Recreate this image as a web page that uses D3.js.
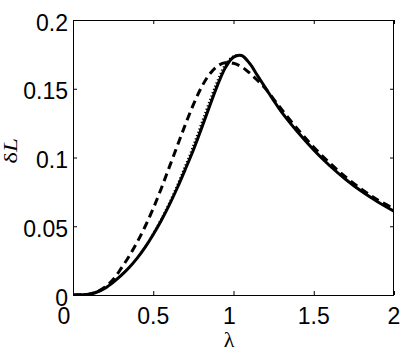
<!DOCTYPE html>
<html>
<head>
<meta charset="utf-8">
<script src="https://cdn.jsdelivr.net/npm/d3@7"></script>
<style>
html,body{margin:0;padding:0;background:#fff;}
svg{display:block;}
</style>
</head>
<body>
<script>
// ---- data ----
const lambda     = [0,0.05,0.1,0.15,0.2,0.25,0.3,0.35,0.4,0.45,0.5,0.55,0.6,0.65,0.7,0.75,0.8,0.85,0.9,0.95,1.0,1.05,1.1,1.15,1.2,1.25,1.3,1.4,1.5,1.6,1.7,1.8,1.9,2.0];
const solidVals  = [0,0.0001,0.0006,0.0022,0.0050,0.0092,0.0142,0.0200,0.0268,0.0348,0.0440,0.0542,0.0655,0.0780,0.0915,0.1055,0.1210,0.1370,0.1525,0.1655,0.1730,0.1742,0.1685,0.1595,0.1505,0.1415,0.1330,0.1185,0.1055,0.0940,0.0840,0.0752,0.0677,0.0610];
const dashedVals = [0,0.0001,0.0006,0.0024,0.0058,0.0113,0.0193,0.0283,0.0385,0.0500,0.0630,0.0775,0.0930,0.1085,0.1240,0.1385,0.1510,0.1605,0.1665,0.1690,0.1685,0.1660,0.1615,0.1560,0.1500,0.1425,0.1350,0.1205,0.1075,0.0960,0.0857,0.0768,0.0690,0.0628];
const dottedVals = [0,0.0001,0.0006,0.0022,0.0050,0.0092,0.0142,0.0200,0.0268,0.0350,0.0450,0.0555,0.0672,0.0802,0.0942,0.1090,0.1250,0.1410,0.1560,0.1680,0.1737,0.1742,0.1685,0.1595,0.1505,0.1415,0.1330,0.1185,0.1055,0.0940,0.0840,0.0752,0.0677,0.0610];
const xTicks = [0,0.5,1,1.5,2];
const yTicks = [0,0.05,0.1,0.15,0.2];
const xTickLabels = ["0","0.5","1","1.5","2"];
const yTickLabels = ["0","0.05","0.1","0.15","0.2"];

const W = 407, H = 358;
const L = 73, R = 394, T = 20, B = 295;

const svg = d3.select("body").append("svg").attr("width", W).attr("height", H);
const x = d3.scaleLinear().domain([0,2]).range([L,R]);
const y = d3.scaleLinear().domain([0,0.2]).range([B,T]);

svg.append("clipPath").attr("id","clip").append("rect")
  .attr("x",L).attr("y",T-10).attr("width",R-L).attr("height",B-T+10);

function series(vals){ return lambda.map((l,i)=>[l, vals[i]]); }
const line = d3.line().x(d=>x(d[0])).y(d=>y(d[1])).curve(d3.curveCatmullRom.alpha(0.5));

const g = svg.append("g").attr("clip-path","url(#clip)");
g.append("path").attr("d", line(series(dottedVals)))
  .attr("fill","none").attr("stroke","#000").attr("stroke-width",2).attr("stroke-dasharray","1.2,2.3");
g.append("path").attr("d", line(series(solidVals)))
  .attr("fill","none").attr("stroke","#000").attr("stroke-width",3);
g.append("path").attr("d", line(series(dashedVals)))
  .attr("fill","none").attr("stroke","#000").attr("stroke-width",3).attr("stroke-dasharray","8,5");

// box
svg.append("rect").attr("x",L+0.5).attr("y",T+0.5).attr("width",R-L-1).attr("height",B-T)
  .attr("fill","none").attr("stroke","#000").attr("stroke-width",1);

// axes with inward ticks
const tl = 4;
svg.append("g").attr("transform",`translate(0,${B})`)
  .call(d3.axisBottom(x).tickValues(xTicks).tickSizeInner(-tl).tickSizeOuter(0).tickFormat(""))
  .call(s=>s.select(".domain").remove());
svg.append("g").attr("transform",`translate(0,${T})`)
  .call(d3.axisTop(x).tickValues(xTicks).tickSizeInner(-tl).tickSizeOuter(0).tickFormat(""))
  .call(s=>s.select(".domain").remove());
svg.append("g").attr("transform",`translate(${L},0)`)
  .call(d3.axisLeft(y).tickValues(yTicks).tickSizeInner(-tl).tickSizeOuter(0).tickFormat(""))
  .call(s=>s.select(".domain").remove());
svg.append("g").attr("transform",`translate(${R},0)`)
  .call(d3.axisRight(y).tickValues(yTicks).tickSizeInner(-tl).tickSizeOuter(0).tickFormat(""))
  .call(s=>s.select(".domain").remove());

const font = "'Liberation Sans', Arial, Helvetica, sans-serif";
// tick labels
svg.append("g").selectAll("text").data(xTicks).join("text")
  .attr("x",(d,i)=>x(d) + (i===0 ? -9 : (d===1 ? -4 : 0)))
  .attr("y",B+29)
  .attr("text-anchor","middle")
  .attr("font-family",font).attr("font-size",23).attr("fill","#000")
  .text((d,i)=>xTickLabels[i]);
svg.append("g").selectAll("text").data(yTicks).join("text")
  .attr("x",L-5).attr("y",d=>y(d)+10.5)
  .attr("text-anchor","end")
  .attr("font-family",font).attr("font-size",23).attr("fill","#000")
  .text((d,i)=>yTickLabels[i]);

// axis labels
svg.append("text").attr("x",229).attr("y",347).attr("text-anchor","middle")
  .attr("font-family","'Liberation Serif', 'Times New Roman', serif").attr("font-size",22).attr("fill","#000")
  .text("λ");
const yl = svg.append("text")
  .attr("transform","translate(17,151) rotate(-90) scale(1,0.72)")
  .attr("text-anchor","middle")
  .attr("font-family","'Liberation Serif', 'Times New Roman', serif").attr("font-size",25).attr("fill","#000");
yl.append("tspan").text("δ");
yl.append("tspan").attr("font-style","italic").text("L");
</script>
</body>
</html>
